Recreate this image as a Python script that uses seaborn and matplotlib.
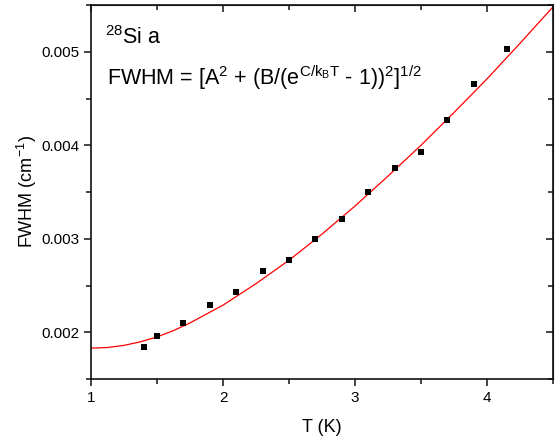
import matplotlib
matplotlib.use("Agg")
import matplotlib.pyplot as plt
from matplotlib.ticker import MultipleLocator, FormatStrFormatter
import seaborn as sns

# measured FWHM points
temp_k = [1.4, 1.5, 1.7, 1.9, 2.1, 2.3, 2.5, 2.7, 2.9, 3.1, 3.3, 3.5, 3.7, 3.9, 4.15]
fwhm = [0.00184, 0.00196, 0.00210, 0.00229, 0.00243, 0.00266, 0.00277, 0.00300,
        0.00321, 0.00350, 0.00376, 0.00393, 0.00427, 0.00466, 0.00503]

# fitted curve
fit_t = [1.0, 1.125, 1.25, 1.375, 1.5, 1.625, 1.75, 2.0, 2.25, 2.5, 2.75, 3.0,
         3.25, 3.5, 3.75, 4.0, 4.25, 4.5]
fit_fwhm = [0.00183, 0.001837, 0.00186, 0.001898, 0.00195, 0.002018, 0.00210,
            0.00229, 0.00252, 0.00277, 0.00305, 0.00335, 0.00367, 0.00400,
            0.00435, 0.00471, 0.00509, 0.00548]

sns.set_style("ticks")
plt.rcParams['font.family'] = ['Liberation Sans', 'DejaVu Sans']
plt.rcParams['mathtext.fontset'] = 'custom'
plt.rcParams['mathtext.rm'] = 'Liberation Sans'
plt.rcParams['mathtext.it'] = 'Liberation Sans'
plt.rcParams['mathtext.bf'] = 'Liberation Sans:bold'
plt.rcParams['text.color'] = 'black'
plt.rcParams['axes.labelcolor'] = 'black'

fig = plt.figure(figsize=(5.57, 4.40), dpi=100)
ax = fig.add_axes([0.1634, 0.1386, 0.8294, 0.85])

sns.lineplot(x=fit_t, y=fit_fwhm, color='red', linewidth=0.9, ax=ax)
sns.scatterplot(x=temp_k, y=fwhm, marker='s', s=22, color='black',
                edgecolor='black', linewidth=0, ax=ax, zorder=3)

ax.set_xlim(1, 4.5)
ax.set_ylim(0.0015, 0.0055)
ax.xaxis.set_major_locator(MultipleLocator(1))
ax.xaxis.set_minor_locator(MultipleLocator(0.5))
ax.yaxis.set_major_locator(MultipleLocator(0.001))
ax.yaxis.set_minor_locator(MultipleLocator(0.0005))
ax.yaxis.set_major_formatter(FormatStrFormatter('%.3f'))

for s in ax.spines.values():
    s.set_linewidth(1.2)
    s.set_color('#111111')

ax.tick_params(which='both', direction='out', labelsize=11, width=1.1, colors='#111111',
               labelcolor='black')
ax.tick_params(which='major', length=5)
ax.tick_params(which='minor', length=3.5)

# inward ticks on top and right
ax2 = ax.secondary_xaxis('top')
ax2.xaxis.set_major_locator(MultipleLocator(1))
ax2.xaxis.set_minor_locator(MultipleLocator(0.5))
ax2.tick_params(which='both', direction='in', labeltop=False, width=1.1, colors='#111111')
ax2.tick_params(which='major', length=5)
ax2.tick_params(which='minor', length=3.5)
ay2 = ax.secondary_yaxis('right')
ay2.yaxis.set_major_locator(MultipleLocator(0.001))
ay2.yaxis.set_minor_locator(MultipleLocator(0.0005))
ay2.tick_params(which='both', direction='in', labelright=False, width=1.1, colors='#111111')
ay2.tick_params(which='major', length=5)
ay2.tick_params(which='minor', length=3.5)

ax.set_xlabel('T (K)', fontsize=13, labelpad=10)
ax.set_ylabel('FWHM (cm$^{-1}$)', fontsize=13, labelpad=1.5)

ax.text(0.03, 0.895, r'$^{28}$Si a', transform=ax.transAxes, fontsize=15.5)
ax.text(0.035, 0.785, r'FWHM = [A$^2$ + (B/(e$^{C/k_BT}$ - 1))$^2$]$^{1/2}$',
        transform=ax.transAxes, fontsize=15.5)

fig.savefig('out.png', dpi=100)
